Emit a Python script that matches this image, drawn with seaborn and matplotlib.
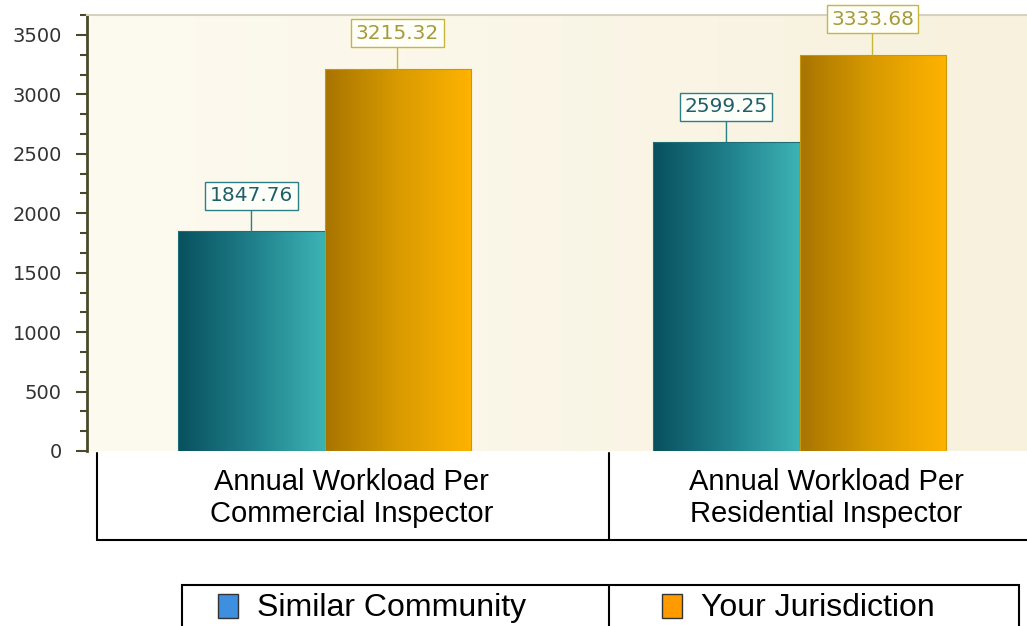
import numpy as np
import pandas as pd
import matplotlib
matplotlib.use("Agg")
import matplotlib.pyplot as plt
import matplotlib.transforms as mtransforms
from matplotlib.patches import Rectangle
from matplotlib.lines import Line2D
from matplotlib.colors import LinearSegmentedColormap
import seaborn as sns

categories = ["Annual Workload Per\nCommercial Inspector", "Annual Workload Per\nResidential Inspector"]
series = ["Similar Community", "Your Jurisdiction"]
similar_values = [1847.76, 2599.25]
jurisdiction_values = [3215.32, 3333.68]
y_ticks = [0, 500, 1000, 1500, 2000, 2500, 3000, 3500]

df = pd.DataFrame({
    "category": categories * 2,
    "series": [series[0]] * 2 + [series[1]] * 2,
    "value": similar_values + jurisdiction_values,
})

sns.set_theme(style="white")
plt.rcParams["font.family"] = ["DejaVu Sans"]

W, H = 1027, 626
fig = plt.figure(figsize=(W / 100, H / 100), dpi=100)
fig.patch.set_facecolor("white")

def fx(px):
    return px / W

def fy(py):
    return 1 - py / H

ax = fig.add_axes([fx(87), fy(451), fx(1037) - fx(87), fy(15) - fy(451)])
ax.set_facecolor("none")

legend_colors = {"Similar Community": "#3f8fe0", "Your Jurisdiction": "#ff9a00"}
sns.barplot(data=df, x="category", y="value", hue="series", hue_order=series,
            order=categories, palette=legend_colors, width=0.615, gap=0.0,
            legend=False, ax=ax, zorder=3)

XLIM = (-0.5, 1.5)
YLIM = (0, 3668)

# plot area background gradient
bg = np.linspace(0, 1, 256).reshape(1, -1)
bg_cmap = LinearSegmentedColormap.from_list("bg", ["#fdfaf0", "#f7f1dd"])
ax.imshow(bg, extent=[XLIM[0], XLIM[1], YLIM[0], YLIM[1]], aspect="auto", cmap=bg_cmap, zorder=0)

grad = np.linspace(0, 1, 256).reshape(1, -1)
cmaps = [
    LinearSegmentedColormap.from_list("teal", ["#08505e", "#1f7f8a", "#3db3b5"]),
    LinearSegmentedColormap.from_list("gold", ["#a87400", "#d99b00", "#ffb300"]),
]
edge_cols = ["#1f6f78", "#c69a00"]
box_edges = ["#2c7f86", "#c8b63a"]
text_cols = ["#1e5f6a", "#a69a3a"]

for ci, cont in enumerate(ax.containers):
    for patch in cont.patches:
        x0, y0 = patch.get_x(), patch.get_y()
        w, h = patch.get_width(), patch.get_height()
        im = ax.imshow(grad, extent=[x0, x0 + w, y0, y0 + h], aspect="auto",
                       cmap=cmaps[ci], zorder=3.5)
        im.set_clip_path(patch)
        patch.set_facecolor("none")
        patch.set_edgecolor(edge_cols[ci])
        patch.set_linewidth(0.8)
        patch.set_zorder(4)
        ax.annotate(f"{h:.2f}", xy=(x0 + w / 2, y0 + h), xytext=(0, 25.5),
                    textcoords="offset points", ha="center", va="center",
                    fontsize=14.5, color=text_cols[ci], zorder=6,
                    bbox=dict(boxstyle="square,pad=0.22", fc="#fffffa", ec=box_edges[ci], lw=1.0),
                    arrowprops=dict(arrowstyle="-", color=box_edges[ci], lw=1.0,
                                    shrinkA=0, shrinkB=0))

ax.set_xlim(*XLIM)
ax.set_ylim(*YLIM)
ax.set_xlabel("")
ax.set_ylabel("")
ax.set_xticks([])
ax.set_yticks(y_ticks)
ax.set_yticklabels([str(t) for t in y_ticks], fontsize=14, color="#333333")
ax.set_yticks([t + d for t in y_ticks for d in (500 / 3, 1000 / 3)], minor=True)
ax.set_ylim(*YLIM)
ax.tick_params(axis="y", which="major", direction="out", length=8, width=1.5,
               color="#4a4a2a", pad=10, left=True)
ax.tick_params(axis="y", which="minor", direction="out", length=5, width=1.5,
               color="#4a4a2a", left=True)

for side in ["right", "bottom"]:
    ax.spines[side].set_visible(False)
ax.spines["left"].set_color("#4a4a2a")
ax.spines["left"].set_linewidth(2)
ax.spines["top"].set_color("#d6d2c2")
ax.spines["top"].set_linewidth(1.5)

# category table under the axis
lc = "black"
fig.add_artist(Line2D([fx(97), fx(97)], [fy(453), fy(540)], color=lc, lw=1.5))
fig.add_artist(Line2D([fx(609), fx(609)], [fy(453), fy(540)], color=lc, lw=1.5))
fig.add_artist(Line2D([fx(97), 1.0], [fy(540), fy(540)], color=lc, lw=1.5))
trans = mtransforms.blended_transform_factory(ax.transData, fig.transFigure)
for i, cat in enumerate(categories):
    ax.text(i + 0.057, fy(498), cat, transform=trans,
            ha="center", va="center", fontsize=21, family="Liberation Sans",
            linespacing=1.2, color="black", clip_on=False)

# legend box
fig.add_artist(Rectangle((fx(182), fy(640)), fx(1019) - fx(182), fy(585) - fy(640),
                         transform=fig.transFigure, fill=False, ec="black", lw=1.5))
fig.add_artist(Line2D([fx(609), fx(609)], [fy(585), fy(640)], color="black", lw=1.5))
leg_x = [218, 662]
for sname, lx in zip(series, leg_x):
    fig.add_artist(Rectangle((fx(lx), fy(618)), fx(20), fy(594) - fy(618),
                             transform=fig.transFigure, fc=legend_colors[sname],
                             ec="#333333", lw=1.0))
    fig.text(fx(lx + 39), fy(608), sname, ha="left", va="center", fontsize=23,
             family="Liberation Sans", color="black")

fig.savefig("out.png", dpi=100, facecolor="white")
